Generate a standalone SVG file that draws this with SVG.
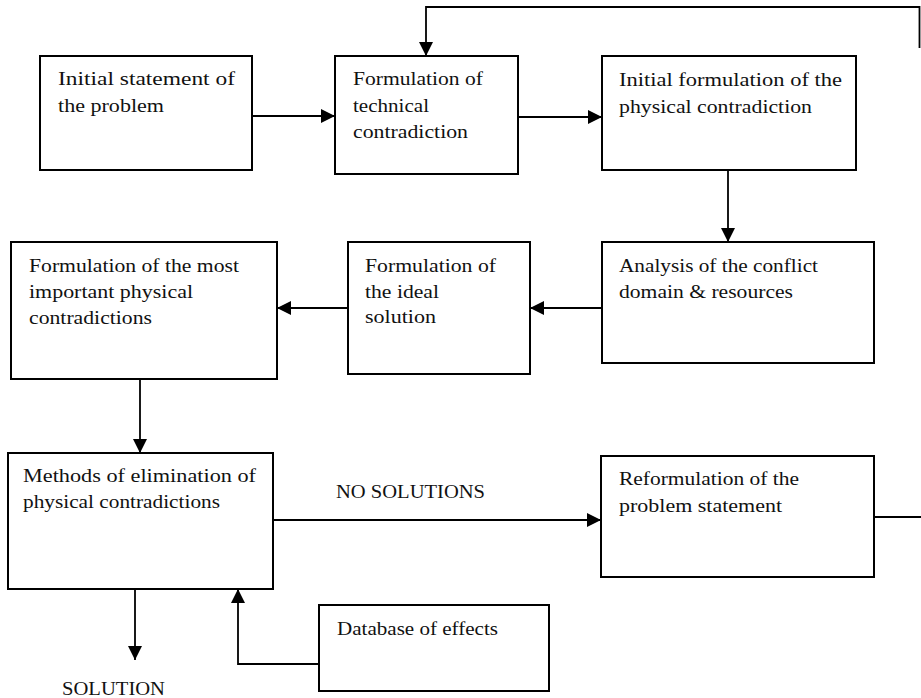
<svg xmlns="http://www.w3.org/2000/svg" width="921" height="698" viewBox="0 0 921 698">
<style>
.box{fill:#fff;stroke:#000;stroke-width:2}
.t{font-family:"Liberation Serif","Times New Roman",serif;font-size:18px;fill:#111}
.c{fill:none;stroke:#000;stroke-width:1.8}
.a{marker-end:url(#ah)}
</style>
<defs>
<marker id="ah" viewBox="0 0 14 14" refX="14" refY="7" markerWidth="14" markerHeight="14" markerUnits="userSpaceOnUse" orient="auto">
<path d="M0,0 L14,7 L0,14 z" fill="#000"/>
</marker>
</defs>
<rect width="921" height="698" fill="#fff"/>
<g id="connectors">
<path class="c" d="M919.5,48 V7 H426 V56" marker-end="url(#ah)"/>
<path class="c a" d="M252,116 H335"/>
<path class="c a" d="M518,117 H602"/>
<path class="c a" d="M728,170 V242"/>
<path class="c a" d="M602,308 H530"/>
<path class="c a" d="M348,308 H277"/>
<path class="c a" d="M140,379 V453"/>
<path class="c a" d="M273,520 H601"/>
<path class="c a" d="M135,589 V660"/>
<path class="c a" d="M319,664 H238 V589"/>
<path class="c" d="M874,517 H921"/>
<text class="t" x="336" y="498" textLength="149" lengthAdjust="spacingAndGlyphs">NO SOLUTIONS</text>
<text class="t" x="62" y="695" textLength="103" lengthAdjust="spacingAndGlyphs">SOLUTION</text>
</g>
<g id="n1">
<rect class="box" x="40" y="56" width="212" height="114"/>
<text class="t" x="58" y="85" textLength="177" lengthAdjust="spacingAndGlyphs">Initial statement of</text>
<text class="t" x="58" y="112" textLength="106" lengthAdjust="spacingAndGlyphs">the problem</text>
</g>
<g id="n2">
<rect class="box" x="335" y="56" width="183" height="118"/>
<text class="t" x="353" y="85" textLength="130" lengthAdjust="spacingAndGlyphs">Formulation of</text>
<text class="t" x="353" y="112" textLength="76" lengthAdjust="spacingAndGlyphs">technical</text>
<text class="t" x="353" y="138" textLength="115" lengthAdjust="spacingAndGlyphs">contradiction</text>
</g>
<g id="n3">
<rect class="box" x="602" y="56" width="254" height="114"/>
<text class="t" x="619" y="86" textLength="223" lengthAdjust="spacingAndGlyphs">Initial formulation of the</text>
<text class="t" x="619" y="113" textLength="193" lengthAdjust="spacingAndGlyphs">physical contradiction</text>
</g>
<g id="n4">
<rect class="box" x="602" y="242" width="272" height="121"/>
<text class="t" x="619" y="272" textLength="199" lengthAdjust="spacingAndGlyphs">Analysis of the conflict</text>
<text class="t" x="619" y="298" textLength="174" lengthAdjust="spacingAndGlyphs">domain &amp; resources</text>
</g>
<g id="n5">
<rect class="box" x="348" y="242" width="182" height="132"/>
<text class="t" x="365" y="272" textLength="131" lengthAdjust="spacingAndGlyphs">Formulation of</text>
<text class="t" x="365" y="298" textLength="74" lengthAdjust="spacingAndGlyphs">the ideal</text>
<text class="t" x="365" y="323" textLength="71" lengthAdjust="spacingAndGlyphs">solution</text>
</g>
<g id="n6">
<rect class="box" x="11" y="242" width="266" height="137"/>
<text class="t" x="29" y="272" textLength="210" lengthAdjust="spacingAndGlyphs">Formulation of the most</text>
<text class="t" x="29" y="298" textLength="164" lengthAdjust="spacingAndGlyphs">important physical</text>
<text class="t" x="29" y="324" textLength="123" lengthAdjust="spacingAndGlyphs">contradictions</text>
</g>
<g id="n7">
<rect class="box" x="8" y="453" width="265" height="136"/>
<text class="t" x="23" y="482" textLength="233" lengthAdjust="spacingAndGlyphs">Methods of elimination of</text>
<text class="t" x="23" y="508" textLength="197" lengthAdjust="spacingAndGlyphs">physical contradictions</text>
</g>
<g id="n8">
<rect class="box" x="601" y="456" width="273" height="121"/>
<text class="t" x="619" y="485" textLength="180" lengthAdjust="spacingAndGlyphs">Reformulation of the</text>
<text class="t" x="619" y="512" textLength="163" lengthAdjust="spacingAndGlyphs">problem statement</text>
</g>
<g id="n9">
<rect class="box" x="319" y="605" width="230" height="86"/>
<text class="t" x="337" y="635" textLength="161" lengthAdjust="spacingAndGlyphs">Database of effects</text>
</g>
</svg>
